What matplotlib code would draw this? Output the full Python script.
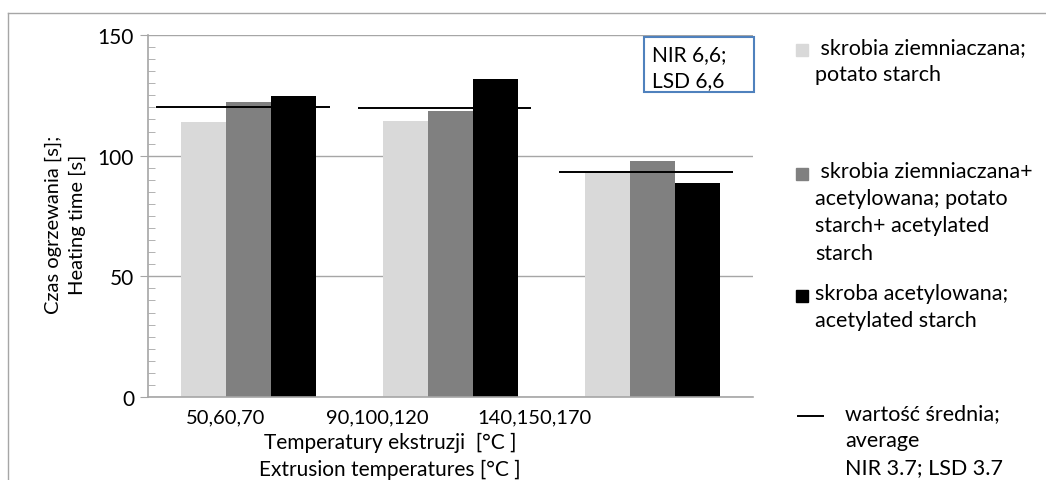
import numpy as np
import matplotlib.pyplot as plt
from matplotlib.patches import Rectangle
from matplotlib.lines import Line2D
from matplotlib.ticker import MultipleLocator

# ---------------------------------------------------------------
# data
# ---------------------------------------------------------------
groups = ["50,60,70", "90,100,120", "140,150,170"]
potato = [113.8, 114.2, 93.3]
mixed = [122.4, 118.5, 97.6]
acetylated = [124.7, 131.6, 88.7]
averages = [120.0, 119.6, 93.3]

series_names = [" skrobia ziemniaczana;\npotato starch",
                " skrobia ziemniaczana+\nacetylowana; potato\nstarch+ acetylated\nstarch",
                "skroba acetylowana;\nacetylated starch"]
avg_name = "wartość średnia;\naverage\nNIR 3.7; LSD 3.7"
box_text = "NIR 6,6;\nLSD 6,6"

plt.rcParams['font.family'] = ['Lato', 'DejaVu Sans']
W, H = 1046, 481
fig = plt.figure(figsize=(W / 100, H / 100), dpi=100)
ax = fig.add_axes([148 / W, 1 - 398 / H, 605 / W, 362 / H])

# ---------------------------------------------------------------
# bars + average lines
# ---------------------------------------------------------------
x = np.arange(len(groups))
bw = 0.223
colors = ["#d9d9d9", "#808080", "#000000"]
for i, (vals, c) in enumerate(zip([potato, mixed, acetylated], colors)):
    ax.bar(x + (i - 1) * bw, vals, bw, color=c, zorder=2)
ax.hlines(averages, x - 0.46, x + 0.40, color="black", lw=1.4, zorder=3)

ax.set_xlim(-0.5, 2.5)
ax.set_ylim(0, 150)
ax.yaxis.set_major_locator(MultipleLocator(50))
ax.yaxis.set_minor_locator(MultipleLocator(5))
ax.grid(axis="y", color="#a6a6a6", lw=1, zorder=0)
for s in ["top", "right"]:
    ax.spines[s].set_visible(False)
ax.spines["left"].set_color("#a6a6a6")
ax.spines["bottom"].set_color("#a6a6a6")
ax.spines["left"].set_linewidth(1.2)
ax.spines["bottom"].set_linewidth(1.2)
ax.tick_params(axis="y", which="major", direction="out", length=6,
               color="#a6a6a6", labelsize=15, pad=4)
ax.tick_params(axis="y", which="minor", direction="in", length=5,
               color="#a6a6a6")
# tick labels sit off the group centres like in the original
ax.set_xticks([-0.117, 0.635, 1.415])
ax.set_xticklabels(groups, fontsize=14.5)
ax.tick_params(axis="x", length=0, pad=8)

fig.text(65 / W, 1 - 225 / H, "Czas ogrzewania [s];\nHeating time [s]",
         rotation=90, ha="center", va="center", fontsize=14.5, linespacing=1.45)
fig.text(390 / W, 1 - 443 / H, "Temperatury ekstruzji  [°C ]",
         ha="center", va="center", fontsize=15)
fig.text(390 / W, 1 - 470 / H, "Extrusion temperatures [°C ]",
         ha="center", va="center", fontsize=15)

# NIR box
fig.add_artist(Rectangle((644 / W, 1 - 93 / H), 110 / W, 55 / H,
                         transform=fig.transFigure, fill=False,
                         edgecolor="#4f81bd", lw=1.5))
fig.text(652 / W, 1 - 68 / H, box_text, ha="left", va="center",
         fontsize=15, linespacing=1.4)

# ---------------------------------------------------------------
# legend on the right, drawn by hand
# ---------------------------------------------------------------
sq_y = [51, 175, 297]
for c, name, yy in zip(colors, series_names, sq_y):
    fig.add_artist(Rectangle((796 / W, 1 - (yy + 6) / H), 12 / W, 12 / H,
                             transform=fig.transFigure, color=c))
    fig.text(815 / W, 1 - (yy - 13) / H, name, ha="left", va="top",
             fontsize=15.5, linespacing=1.45)
fig.add_artist(Line2D([798 / W, 823 / W], [1 - 417 / H, 1 - 417 / H],
                      transform=fig.transFigure, color="black", lw=1.4))
fig.text(845 / W, 1 - 404 / H, avg_name, ha="left", va="top",
         fontsize=15.5, linespacing=1.45)

# outer frame
fig.add_artist(Line2D([8 / W, 8 / W], [0, 1 - 14 / H],
                      transform=fig.transFigure, color="#a6a6a6", lw=1))
fig.add_artist(Line2D([8 / W, 1], [1 - 14 / H, 1 - 14 / H],
                      transform=fig.transFigure, color="#a6a6a6", lw=1))

fig.savefig("out.png", dpi=100)
